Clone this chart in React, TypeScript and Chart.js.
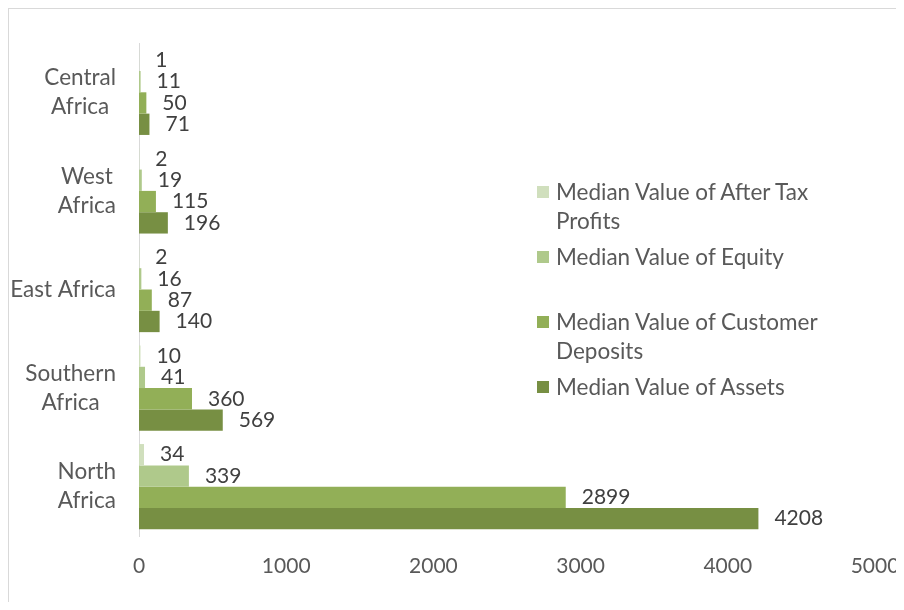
import React, { useEffect, useRef } from "react";
import { Chart, registerables } from "chart.js";

Chart.register(...registerables);

const categories: string[][] = [
  ["Central", "Africa"],
  ["West", "Africa"],
  ["East Africa"],
  ["Southern", "Africa"],
  ["North", "Africa"],
];

const afterTaxProfits = [1, 2, 2, 10, 34];
const equity = [11, 19, 16, 41, 339];
const customerDeposits = [50, 115, 87, 360, 2899];
const assets = [71, 196, 140, 569, 4208];

const seriesLabels: string[][] = [
  ["Median Value of After Tax", "Profits"],
  ["Median Value of Equity"],
  ["Median Value of Customer", "Deposits"],
  ["Median Value of Assets"],
];
const seriesColors = ["#d0dfbd", "#afc98b", "#92af57", "#778f43"];

const xTicks = [0, 1000, 2000, 3000, 4000, 5000];

const FONT = "Lato, 'Open Sans', sans-serif";
const FS = 21;
const FS_TEXT = 22.5;

const valueLabels = {
  id: "valueLabels",
  afterDatasetsDraw(chart: any) {
    const ctx = chart.ctx;
    ctx.save();
    ctx.font = `${FS}px ${FONT}`;
    ctx.fillStyle = "#404040";
    ctx.textAlign = "left";
    ctx.textBaseline = "middle";
    chart.data.datasets.forEach((ds: any, i: number) => {
      const meta = chart.getDatasetMeta(i);
      meta.data.forEach((bar: any, j: number) => {
        ctx.fillText(String(ds.data[j]), bar.x + 16, bar.y);
      });
    });
    ctx.restore();
  },
};

// Category labels: block right-aligned to the axis, lines centred within the block
const categoryLabels = {
  id: "categoryLabels",
  afterDraw(chart: any) {
    const ctx = chart.ctx;
    const y = chart.scales.y;
    ctx.save();
    ctx.font = `${FS_TEXT}px ${FONT}`;
    ctx.fillStyle = "#595959";
    ctx.textAlign = "center";
    ctx.textBaseline = "middle";
    const lineH = 29;
    categories.forEach((lines, i) => {
      const cy = y.getPixelForTick(i);
      const w = Math.max(...lines.map((l) => ctx.measureText(l).width));
      const right = y.right - 23;
      const cx = right - w / 2;
      lines.forEach((l, k) => {
        ctx.fillText(l, cx, cy + (k - (lines.length - 1) / 2) * lineH);
      });
    });
    ctx.restore();
  },
};

export default function App() {
  const ref = useRef<HTMLCanvasElement>(null);
  useEffect(() => {
    if (!ref.current) return;
    const chart = new Chart(ref.current, {
      type: "bar",
      data: {
        labels: categories.map((c) => c.join(" ")),
        datasets: [afterTaxProfits, equity, customerDeposits, assets].map((d, i) => ({
          label: seriesLabels[i].join(" "),
          data: d,
          backgroundColor: seriesColors[i],
          borderWidth: 0,
          barPercentage: 1,
          categoryPercentage: 0.865,
        })),
      },
      options: {
        indexAxis: "y",
        animation: false,
        responsive: false,
        maintainAspectRatio: false,
        layout: { padding: { top: 34, right: 29, bottom: 0, left: 0 } },
        plugins: { legend: { display: false }, tooltip: { enabled: false } },
        scales: {
          x: {
            min: 0,
            max: 5000,
            afterBuildTicks: (axis: any) => {
              axis.ticks = xTicks.map((v) => ({ value: v }));
            },
            afterFit: (axis: any) => {
              axis.height = 66;
              axis.paddingLeft = 0;
              axis.paddingRight = 0;
            },
            grid: { display: false, drawTicks: false },
            border: { display: false },
            ticks: {
              color: "#595959",
              font: { family: FONT, size: FS },
              padding: 18,
              maxRotation: 0,
              callback: (v: any) => String(v),
            },
          },
          y: {
            afterFit: (axis: any) => {
              axis.width = 130;
            },
            grid: { display: false, drawTicks: false },
            border: { display: true, color: "#d9d9d9", width: 1 },
            ticks: { display: false },
          },
        },
      },
      plugins: [valueLabels, categoryLabels],
    });
    return () => chart.destroy();
  }, []);

  return (
    <div
      style={{
        position: "relative",
        width: 895,
        height: 593,
        borderTop: "1px solid #d9d9d9",
        borderLeft: "1px solid #d9d9d9",
        boxSizing: "content-box",
        background: "#fff",
      }}
    >
      <canvas ref={ref} width={895} height={593} style={{ display: "block" }} />
      <div
        style={{
          position: "absolute",
          left: 528,
          top: 168,
          fontFamily: FONT,
          fontSize: FS_TEXT,
          color: "#595959",
          lineHeight: "29px",
          whiteSpace: "nowrap",
        }}
      >
        {seriesLabels.map((lines, i) => (
          <div key={i} style={{ height: 65, display: "flex", alignItems: "flex-start" }}>
            <div
              style={{
                width: 12,
                height: 12,
                background: seriesColors[i],
                marginTop: 9,
                marginRight: 7,
                flex: "none",
              }}
            />
            <div>
              {lines.map((l, k) => (
                <div key={k}>{l}</div>
              ))}
            </div>
          </div>
        ))}
      </div>
    </div>
  );
}
